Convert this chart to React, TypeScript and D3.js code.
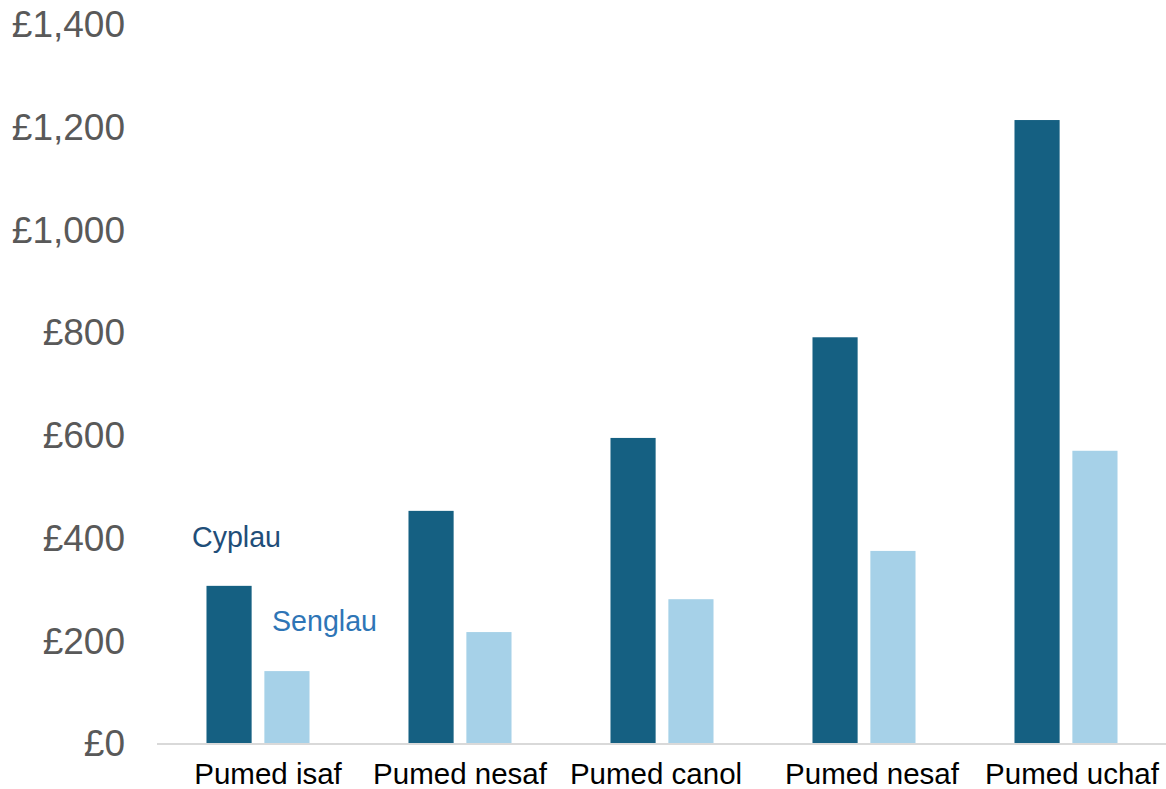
import * as d3 from 'd3'

const categories = ['Pumed isaf', 'Pumed nesaf', 'Pumed canol', 'Pumed nesaf ', 'Pumed uchaf']
const couples = [306, 452, 594, 790, 1213]
const singles = [140, 216, 280, 374, 569]
const seriesNames = ['Cyplau', 'Senglau']
const yTicks = [0, 200, 400, 600, 800, 1000, 1200, 1400]
// small horizontal nudges of the category labels, as in the source chart
const labelNudge = [10, 0, -6, 8, 6]

const W = 1166
const H = 789
const font = 'Arial, "Liberation Sans", sans-serif'
const colors = ['#156082', '#A6D1E8']
const labelColors = ['#1F4E79', '#2E75B6']

export default function App() {
  const x0 = d3.scaleBand<string>()
    .domain(categories)
    .range([157, 1167])
    .paddingInner(0.49)
    .paddingOuter(0.245)
  const x1 = d3.scaleBand<number>()
    .domain([0, 1])
    .range([0, x0.bandwidth()])
    .paddingInner(0.22)
  const y = d3.scaleLinear().domain([0, 1400]).range([743, 24])
  const fmt = (v: number) => '£' + d3.format(',')(v)
  const series = [couples, singles]

  return (
    <svg width={W} height={H} style={{ position: 'absolute', left: 0, top: 0, background: '#fff' }}>
      {yTicks.map(t => (
        <text key={t} x={125} y={y(t)} dy="0.36em" textAnchor="end"
          fontFamily={font} fontSize={37} fill="#595959">{fmt(t)}</text>
      ))}
      {categories.map((c, i) => (
        <g key={c} transform={`translate(${x0(c)},0)`}>
          {series.map((s, k) => (
            <rect key={k} x={x1(k)} y={y(s[i])} width={x1.bandwidth()}
              height={y(0) - y(s[i])} fill={colors[k]} />
          ))}
          <text x={x0.bandwidth() / 2 + labelNudge[i]} y={784} textAnchor="middle"
            fontFamily={font} fontSize={29.5} fill="#000">{c.trim()}</text>
        </g>
      ))}
      <line x1={157} x2={1166} y1={y(0) + 1} y2={y(0) + 1} stroke="#d9d9d9" strokeWidth={2} />
      <text x={192} y={547} fontFamily={font} fontSize={28.6} fill={labelColors[0]}>{seriesNames[0]}</text>
      <text x={272} y={631} fontFamily={font} fontSize={28.6} fill={labelColors[1]}>{seriesNames[1]}</text>
    </svg>
  )
}
